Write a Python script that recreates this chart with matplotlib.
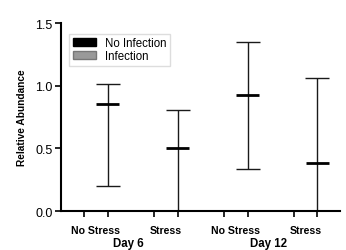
import numpy as np
import matplotlib.pyplot as plt
from matplotlib.patches import Patch

plt.rcParams['font.family'] = ['Liberation Sans', 'DejaVu Sans']

# data
conditions = ['No Stress', 'Stress', 'No Stress', 'Stress']
days = ['Day 6', 'Day 12']
no_infection = [0.0, 0.0, 0.0, 0.0]
infection_mean = [0.856, 0.50, 0.926, 0.385]
infection_low = [0.202, -0.10, 0.333, -0.10]
infection_high = [1.011, 0.806, 1.351, 1.064]

fig = plt.figure(figsize=(3.46, 2.51), dpi=100)
ax = fig.add_axes([0.176, 0.155, 0.807, 0.749])

x_no = np.arange(len(conditions)) * 3.0
x_inf = x_no + 1.0

ax.bar(x_no, no_infection, width=1.0, color='black')
ax.bar(x_inf, [0.0] * len(conditions), width=1.0, color='#999999')

mean = np.array(infection_mean)
yerr = np.vstack([mean - np.array(infection_low), np.array(infection_high) - mean])
ax.errorbar(x_inf, mean, yerr=yerr, fmt='none', ecolor='#1a1a1a',
            elinewidth=1.0, capsize=8.6, capthick=1.0)
ax.hlines(mean, x_inf - 0.5, x_inf + 0.5, color='black', linewidth=2.0)

ax.set_xlim(-1.0, 10.97)
ax.set_ylim(0, 1.5)
ax.set_yticks([0.0, 0.5, 1.0, 1.5])
ax.set_yticklabels(['0.0', '0.5', '1.0', '1.5'], fontsize=9)
ax.set_xticks(np.sort(np.concatenate([x_no, x_inf])))
ax.set_xticklabels([])
ax.tick_params(axis='both', length=4.5, width=1.2, direction='out', pad=1.5)

for s in ['top', 'right']:
    ax.spines[s].set_visible(False)
for s in ['left', 'bottom']:
    ax.spines[s].set_linewidth(1.5)

trans = ax.get_xaxis_transform()
for xc, lab in zip(x_no + 0.5, conditions):
    ax.text(xc, -0.10, lab, transform=trans, ha='center', va='center',
            fontsize=7.6, fontweight='bold')
for i, d in enumerate(days):
    xc = (x_no[2 * i] + x_no[2 * i + 1]) / 2 + 0.4
    ax.text(xc, -0.17, d, transform=trans, ha='center', va='center',
            fontsize=8.3, fontweight='bold')

ax.set_ylabel('Relative Abundance', fontsize=7.3, fontweight='bold', labelpad=6)

handles = [Patch(facecolor='black', edgecolor='black'),
           Patch(facecolor='#999999', edgecolor='#777777')]
ax.legend(handles, ['No Infection', 'Infection'], loc='upper left',
          bbox_to_anchor=(0.01, 0.975), fontsize=8.3, frameon=True, fancybox=False,
          edgecolor='#dddddd', framealpha=1, handlelength=2.0, handleheight=0.6,
          handletextpad=0.8, borderpad=0.3, labelspacing=0.1)

fig.savefig('out.png', dpi=100)
